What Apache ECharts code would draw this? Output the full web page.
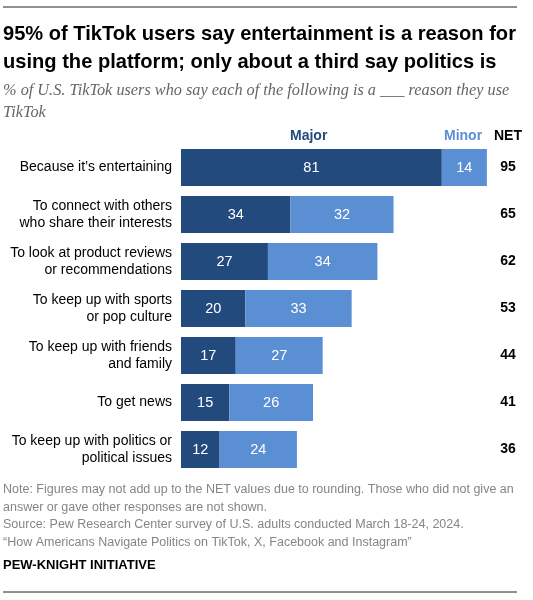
<!DOCTYPE html>
<html>
<head>
<meta charset="utf-8">
<script src="https://cdn.jsdelivr.net/npm/echarts@6/dist/echarts.min.js"></script>
<style>
  html, body { margin: 0; padding: 0; background: #fff; }
  #container { width: 533px; height: 600px; }
</style>
</head>
<body>
<div id="container"></div>
<script>
var categories = [
  'Because it\u2019s entertaining',
  'To connect with others\nwho share their interests',
  'To look at product reviews\nor recommendations',
  'To keep up with sports\nor pop culture',
  'To keep up with friends\nand family',
  'To get news',
  'To keep up with politics or\npolitical issues'
];
var major = [81, 34, 27, 20, 17, 15, 12];
var minor = [14, 32, 34, 33, 27, 26, 24];
var net = [95, 65, 62, 53, 44, 41, 36];

var dark = '#234a7c';
var light = '#5b8fd4';
var font = '"Liberation Sans", Arial, sans-serif';

var dom = document.getElementById('container');
var myChart = echarts.init(dom, null, { renderer: 'canvas' });

var option = {
  animation: false,
  title: [
    {
      text: '95% of TikTok users say entertainment is a reason for\nusing the platform; only about a third say politics is',
      left: 3, top: 20, padding: 0,
      textStyle: { fontFamily: font, fontWeight: 'bold', fontSize: 20.1, lineHeight: 28, color: '#000' }
    },
    {
      text: '% of U.S. TikTok users who say each of the following is a ___ reason they use\nTikTok',
      left: 3, top: 79, padding: 0,
      textStyle: { fontFamily: '"Liberation Serif", Georgia, serif', fontStyle: 'italic', fontWeight: 'normal', fontSize: 16.3, lineHeight: 22.5, color: '#666' }
    },
    {
      text: 'Note: Figures may not add up to the NET values due to rounding. Those who did not give an\nanswer or gave other responses are not shown.\nSource: Pew Research Center survey of U.S. adults conducted March 18-24, 2024.\n\u201cHow Americans Navigate Politics on TikTok, X, Facebook and Instagram\u201d',
      left: 3, top: 481, padding: 0,
      textStyle: { fontFamily: font, fontWeight: 'normal', fontSize: 12.5, lineHeight: 17.6, color: '#858585' }
    },
    {
      text: 'PEW-KNIGHT INITIATIVE',
      left: 3, top: 559, padding: 0,
      textStyle: { fontFamily: font, fontWeight: 'bold', fontSize: 13, color: '#000' }
    },
    {
      text: 'Major', left: 290, top: 129, padding: 0,
      textStyle: { fontFamily: font, fontWeight: 'bold', fontSize: 14, color: dark }
    },
    {
      text: 'Minor', left: 444, top: 129, padding: 0,
      textStyle: { fontFamily: font, fontWeight: 'bold', fontSize: 14, color: light }
    },
    {
      text: 'NET', left: 494, top: 129, padding: 0,
      textStyle: { fontFamily: font, fontWeight: 'bold', fontSize: 14, color: '#000' }
    }
  ],
  graphic: [
    { type: 'line', shape: { x1: 3, y1: 7, x2: 517, y2: 7 }, style: { stroke: '#222', lineWidth: 1 } },
    { type: 'line', shape: { x1: 3, y1: 592, x2: 517, y2: 592 }, style: { stroke: '#222', lineWidth: 1 } }
  ],
  grid: { left: 181, right: 30, top: 144, bottom: 127, containLabel: false },
  xAxis: { type: 'value', min: 0, max: 100, show: false },
  yAxis: [
    {
      type: 'category', data: categories, inverse: true,
      axisLine: { show: false }, axisTick: { show: false },
      axisLabel: { fontFamily: font, fontSize: 14, lineHeight: 17, color: '#000', margin: 9 }
    },
    {
      type: 'category', data: net, inverse: true, position: 'right',
      axisLine: { show: false }, axisTick: { show: false },
      axisLabel: { fontFamily: font, fontSize: 14, fontWeight: 'bold', color: '#000', margin: 5, align: 'center' }
    }
  ],
  series: [
    {
      name: 'Major', type: 'bar', stack: 'a', data: major, barWidth: 37,
      itemStyle: { color: dark },
      label: { show: true, position: 'inside', color: '#fff', fontFamily: font, fontSize: 14.5 }
    },
    {
      name: 'Minor', type: 'bar', stack: 'a', data: minor, barWidth: 37,
      itemStyle: { color: light },
      label: { show: true, position: 'inside', color: '#fff', fontFamily: font, fontSize: 14.5 }
    }
  ]
};

myChart.setOption(option);
window.addEventListener('resize', myChart.resize);
</script>
</body>
</html>
